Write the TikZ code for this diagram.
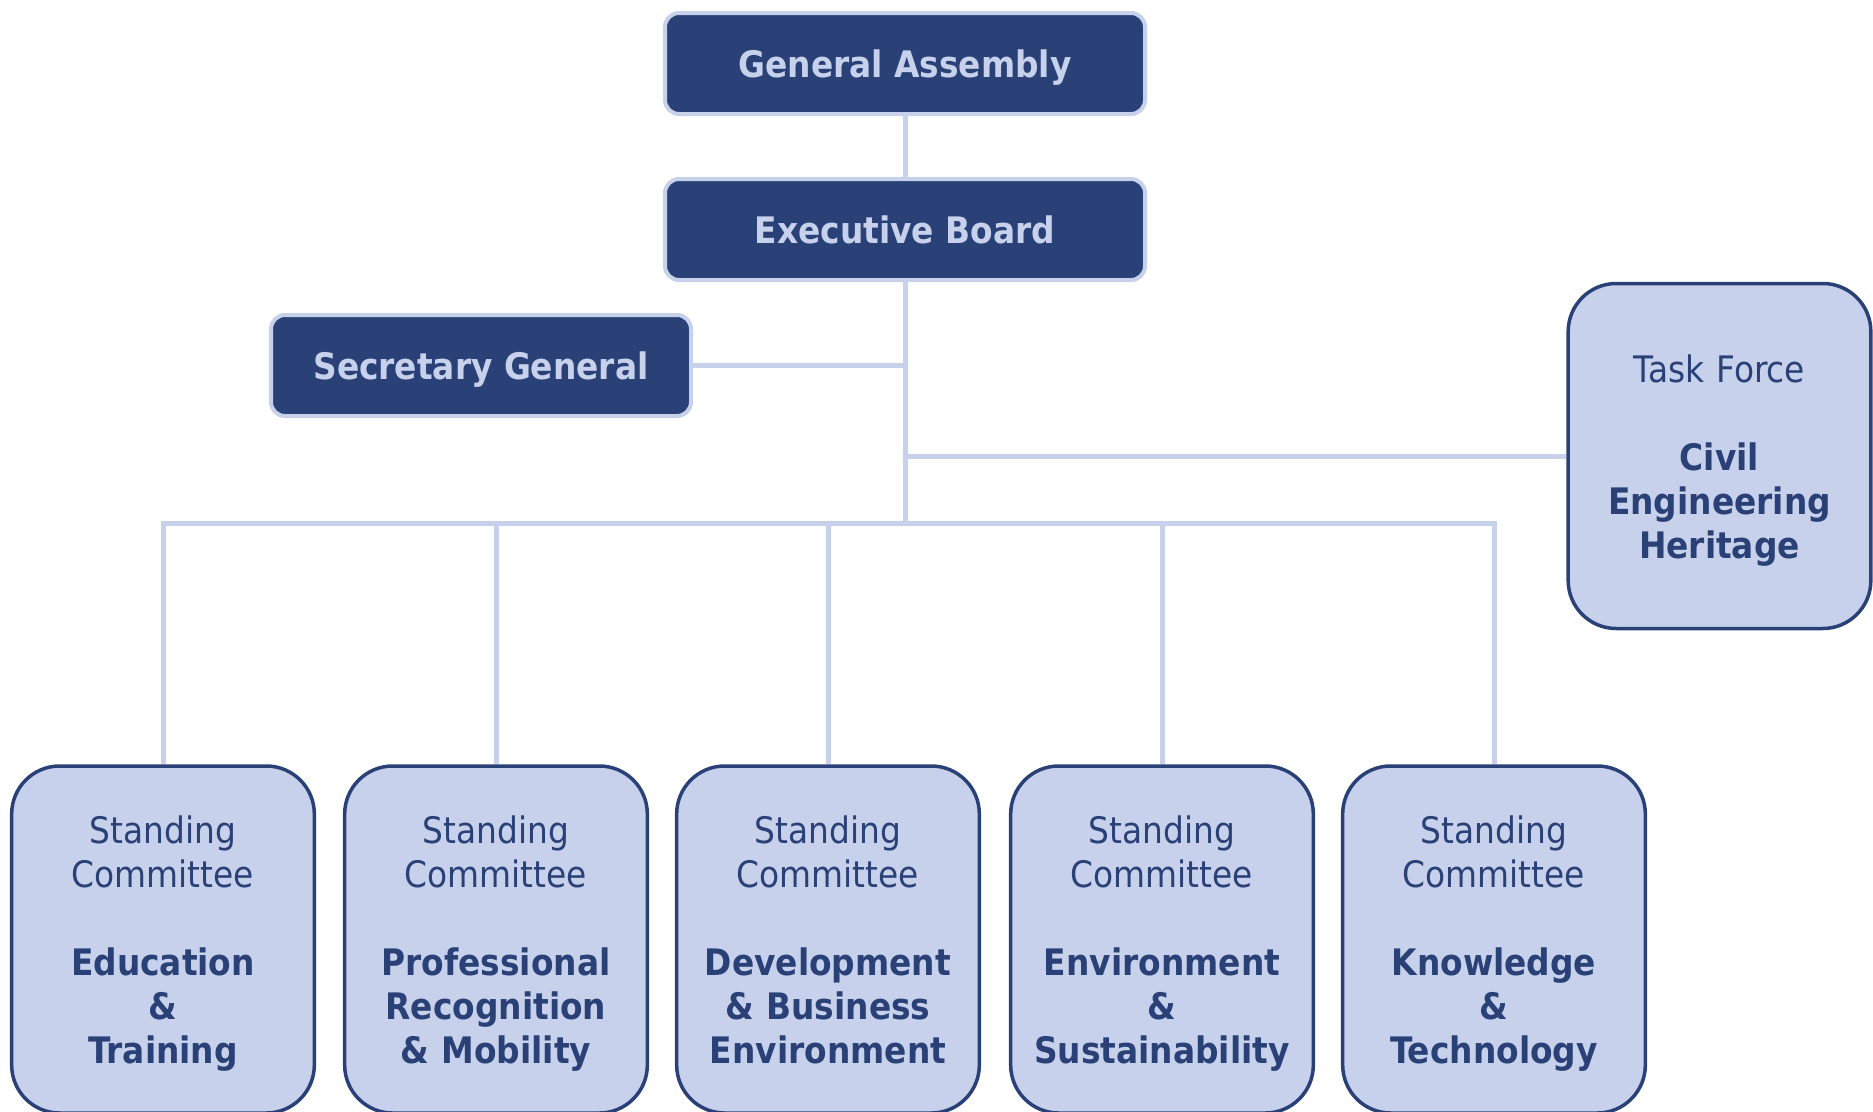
\documentclass[tikz,border=0pt]{standalone}
\usepackage{fontspec}
\setmainfont{DejaVu Sans Condensed}
\usepackage{tikz}
\usetikzlibrary{positioning}

\definecolor{navy}{HTML}{2A4178}
\definecolor{pale}{HTML}{C7D1EB}
% pushes the text block a little lower in its box
\newcommand{\topgap}{\rule{0pt}{41.5pt}}

\tikzset{
  head/.style={draw=pale,fill=navy,text=pale,line width=4pt,rounded corners=14pt,
    minimum width=480pt,minimum height=101pt,text depth=0pt,
    font=\fontsize{36.5}{44}\selectfont\bfseries},
  cmte/.style={draw=navy,fill=pale,text=navy,line width=3.5pt,rounded corners=48pt,
    minimum width=298pt,minimum height=347pt,text width=296pt,align=center,
    font=\fontsize{36.5}{44}\selectfont},
  link/.style={draw=pale,line width=5pt}
}

\begin{document}
\begin{tikzpicture}[x=1pt,y=-1pt]
  \useasboundingbox (0,0) rectangle (1873,1111);
  \node[head] (ga) at (905,63.5) {General Assembly};
  \node[head] (eb) at (905,229.5) {Executive Board};
  \node[head,minimum width=420pt] (sg) at (481,365.5) {Secretary General};
  \node[cmte,minimum width=300pt,minimum height=345pt] (tf) at (1719.5,456)
    {\topgap Task Force\\[44pt]\textbf{Civil}\\\textbf{Engineering}\\\textbf{Heritage}\strut};
  \node[cmte] (c1) at (163,939.5)
    {\topgap Standing\\Committee\\[44pt]\textbf{Education}\\\textbf{\&}\\\textbf{Training}\strut};
  \node[cmte] (c2) at (496,939.5)
    {\topgap Standing\\Committee\\[44pt]\textbf{Professional}\\\textbf{Recognition}\\\textbf{\& Mobility}\strut};
  \node[cmte] (c3) at (828,939.5)
    {\topgap Standing\\Committee\\[44pt]\textbf{Development}\\\textbf{\& Business}\\\textbf{Environment}\strut};
  \node[cmte] (c4) at (1162,939.5)
    {\topgap Standing\\Committee\\[44pt]\textbf{Environment}\\\textbf{\&}\\\textbf{Sustainability}\strut};
  \node[cmte] (c5) at (1494,939.5)
    {\topgap Standing\\Committee\\[44pt]\textbf{Knowledge}\\\textbf{\&}\\\textbf{Technology}\strut};
  \coordinate (bus) at (905,523);
  \draw[link] (ga) -- (eb);
  \draw[link] (eb.south) -- (bus);
  \draw[link] (sg.east) -- (sg.east -| eb.south);
  \draw[link] (tf.west) -- (tf.west -| eb.south);
  \draw[link] (c1.north) |- (bus) -| (c5.north);
  \draw[link] (c2.north) -- (c2.north |- bus) (c3.north) -- (c3.north |- bus)
    (c4.north) -- (c4.north |- bus);
\end{tikzpicture}
\end{document}
